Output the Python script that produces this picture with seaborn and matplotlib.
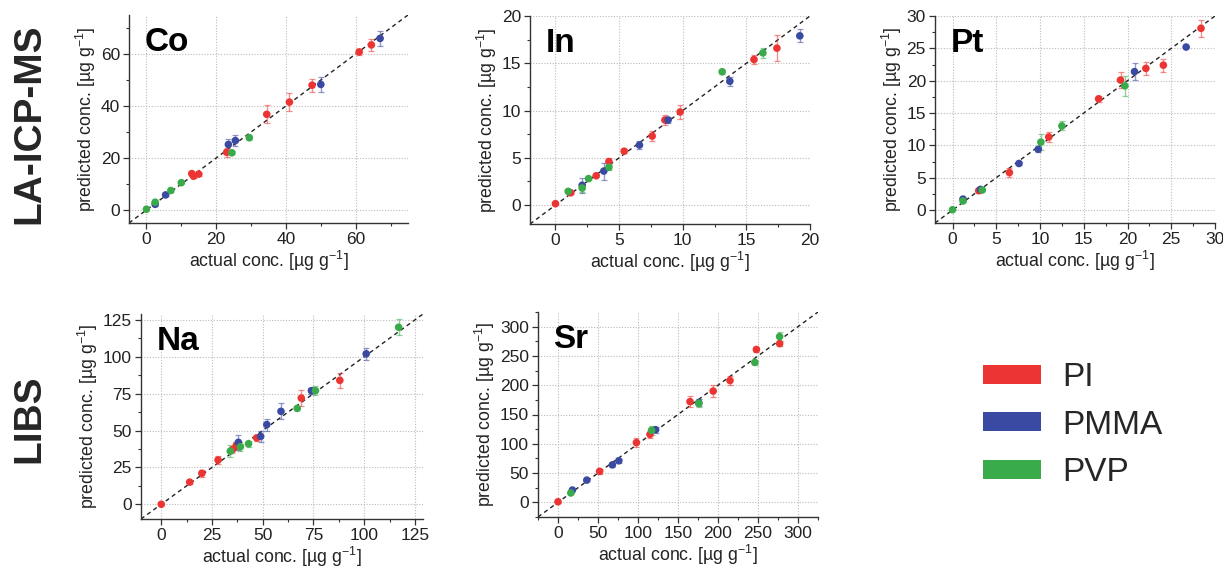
import matplotlib
matplotlib.use("Agg")
import matplotlib.pyplot as plt
from matplotlib.ticker import MultipleLocator
from matplotlib.patches import Patch
import seaborn as sns
import pandas as pd

# ---- data: actual vs predicted concentration, error, polymer matrix ----
polymers = ["PI", "PMMA", "PVP"]
colors = {"PI": "#ec3532", "PMMA": "#3a49a1", "PVP": "#3aab4a"}

co_poly = ["PI"] * 9 + ["PMMA"] * 6 + ["PVP"] * 6
co_actual = [13, 13.5, 15, 23, 34.5, 41, 47.5, 61, 64.5,
             2.5, 5.5, 23.5, 25.5, 50, 67,
             0, 2.5, 7, 10, 24.5, 29.5]
co_pred = [14, 13, 13.8, 22.2, 36.8, 41.5, 48, 60.8, 63.5,
           2.2, 5.8, 25.2, 26.7, 48.3, 66,
           0.3, 3, 7.5, 10.5, 22, 27.8]
co_err = [0.8, 0.8, 0.6, 1.8, 3.5, 3.6, 2.5, 1.0, 2.4,
          0.5, 0.6, 2.0, 2.0, 2.8, 3.0,
          0.3, 0.5, 0.5, 0.5, 0.6, 1.0]

in_poly = ["PI"] * 10 + ["PMMA"] * 6 + ["PVP"] * 6
in_actual = [0, 1.2, 3.2, 4.2, 5.4, 7.6, 8.6, 9.8, 15.6, 17.4,
             2.1, 3.8, 6.6, 8.85, 13.7, 19.2,
             1.0, 2.1, 2.6, 4.2, 13.1, 16.3]
in_pred = [0.15, 1.3, 3.1, 4.6, 5.7, 7.3, 9.0, 9.85, 15.4, 16.6,
           2.1, 3.6, 6.35, 9.0, 13.1, 17.9,
           1.45, 1.8, 2.8, 4.0, 14.1, 16.1]
in_err = [0.1, 0.1, 0.15, 0.4, 0.2, 0.5, 0.5, 0.7, 0.5, 1.4,
          0.8, 0.9, 0.4, 0.3, 0.5, 0.7,
          0.2, 0.4, 0.1, 0.3, 0.2, 0.5]

pt_poly = ["PI"] * 8 + ["PMMA"] * 6 + ["PVP"] * 6
pt_actual = [3.0, 6.5, 11.0, 16.7, 19.2, 22.1, 24.1, 28.4,
             1.2, 3.2, 7.6, 9.8, 20.8, 26.7,
             0, 1.2, 3.4, 10.1, 12.5, 19.7]
pt_pred = [3.0, 5.8, 11.3, 17.2, 20.1, 21.9, 22.4, 28.1,
           1.7, 3.2, 7.2, 9.4, 21.4, 25.2,
           0.05, 1.4, 3.1, 10.5, 13.0, 19.2]
pt_err = [0.4, 0.7, 0.8, 0.5, 1.3, 1.0, 1.0, 1.3,
          0.2, 0.2, 0.3, 0.4, 1.3, 0.2,
          0.1, 0.2, 0.2, 1.2, 0.7, 1.5]

na_poly = ["PI"] * 9 + ["PMMA"] * 6 + ["PVP"] * 6
na_actual = [0, 14, 20, 28, 35, 37, 47, 69, 88,
             38, 49, 52, 59, 74, 101,
             34, 39, 43, 67, 76, 117]
na_pred = [0, 15, 21, 30, 37, 40, 45, 72, 84,
           42, 46, 54, 63, 77, 102,
           36, 39, 41, 65, 77, 120]
na_err = [0.5, 1, 2.5, 3, 2, 2.5, 2, 5.5, 5,
          5, 4, 4, 5.5, 2, 4,
          4, 3, 2, 1, 3, 5.5]

sr_poly = ["PI"] * 9 + ["PMMA"] * 6 + ["PVP"] * 5
sr_actual = [0, 52, 98, 115, 165, 194, 215, 248, 277,
             18, 36, 68, 76, 122, 176,
             16, 117, 176, 246, 277]
sr_pred = [1, 53, 102, 116, 172, 190, 208, 261, 271,
           21, 38, 64, 71, 124, 170,
           16, 123, 169, 239, 283]
sr_err = [2, 4, 8, 6, 10, 10, 8, 5, 4,
          2, 2, 3, 3, 5, 6,
          2, 8, 7, 4, 8]

panels = [
    ("Co", co_actual, co_pred, co_err, co_poly, (-5, 75), 20, 10),
    ("In", in_actual, in_pred, in_err, in_poly, (-2, 20), 5, 2.5),
    ("Pt", pt_actual, pt_pred, pt_err, pt_poly, (-2, 30), 5, 2.5),
    ("Na", na_actual, na_pred, na_err, na_poly, (-10, 129), 25, 12.5),
    ("Sr", sr_actual, sr_pred, sr_err, sr_poly, (-25, 325), 50, 25),
]

# axes boxes in pixels: left, right, top, bottom
W, H = 1223, 571
boxes = [
    (129, 408, 15, 223),
    (530, 810, 16, 224),
    (935, 1215, 16, 223),
    (141, 423, 314, 519),
    (538, 818, 312, 517),
]

sns.set_theme(style="ticks")
plt.rcParams["font.family"] = ["Liberation Sans", "DejaVu Sans"]
plt.rcParams["mathtext.fontset"] = "custom"
plt.rcParams["mathtext.rm"] = "Liberation Sans"
plt.rcParams["mathtext.it"] = "Liberation Sans:italic"

fig = plt.figure(figsize=(W / 100, H / 100), dpi=100)

for (name, xa, yp, err, poly, lim, major, minor), (l, r, t, b) in zip(panels, boxes):
    ax = fig.add_axes([l / W, 1 - b / H, (r - l) / W, (b - t) / H])
    df = pd.DataFrame({"actual": xa, "predicted": yp, "err": err, "polymer": poly})

    # identity line
    ax.plot(lim, lim, ls=(0, (3, 2.5)), color="#222222", lw=1.0, zorder=2)

    for p in polymers:
        sub = df[df["polymer"] == p]
        ax.errorbar(sub["actual"], sub["predicted"], yerr=sub["err"], fmt="none",
                    ecolor=colors[p], alpha=0.55, elinewidth=1.0, capsize=2.5,
                    capthick=0.9, zorder=3)
    sns.scatterplot(data=df, x="actual", y="predicted", hue="polymer",
                    hue_order=polymers, palette=colors, s=30, linewidth=0,
                    legend=False, ax=ax, zorder=4)

    ax.set_xlim(lim)
    ax.set_ylim(lim)
    ax.xaxis.set_major_locator(MultipleLocator(major))
    ax.yaxis.set_major_locator(MultipleLocator(major))
    ax.xaxis.set_minor_locator(MultipleLocator(minor))
    ax.yaxis.set_minor_locator(MultipleLocator(minor))
    ax.grid(True, which="major", ls=(0, (1, 1.5)), color="#bbbbbb", lw=0.8)
    ax.set_axisbelow(True)
    for s in ("top", "right"):
        ax.spines[s].set_visible(False)
    for s in ("left", "bottom"):
        ax.spines[s].set_color("#333333")
        ax.spines[s].set_linewidth(1.0)
    ax.tick_params(which="major", direction="out", length=4, width=0.9,
                   color="#333333", labelsize=12.5, labelcolor="#222222", pad=2.5)
    ax.tick_params(which="minor", direction="out", length=2.5, width=0.8,
                   color="#333333")
    ax.set_xlabel("actual conc. [µg g$^{-1}$]", fontsize=12.8, color="#222222",
                  labelpad=1)
    ax.set_ylabel("predicted conc. [µg g$^{-1}$]", fontsize=12.8, color="#222222",
                  labelpad=2)
    ax.text(0.055, 0.94, name, transform=ax.transAxes, fontsize=24,
            fontweight="bold", ha="left", va="top", color="black")

# technique labels for each row
fig.text(29 / W, 1 - 124 / H, "LA-ICP-MS", rotation=90, fontsize=28,
         fontweight="bold", ha="center", va="center")
fig.text(29 / W, 1 - 419 / H, "LIBS", rotation=90, fontsize=28,
         fontweight="bold", ha="center", va="center")

# polymer legend
handles = [Patch(facecolor=colors[p], edgecolor="none", label=p) for p in polymers]
fig.legend(handles=handles, loc="center left",
           bbox_to_anchor=(983 / W, 1 - 425 / H), frameon=False, borderpad=0,
           borderaxespad=0, fontsize=24, handlelength=1.75, handleheight=0.5,
           labelspacing=0.5, handletextpad=0.62)

fig.savefig("out.png", dpi=100)
